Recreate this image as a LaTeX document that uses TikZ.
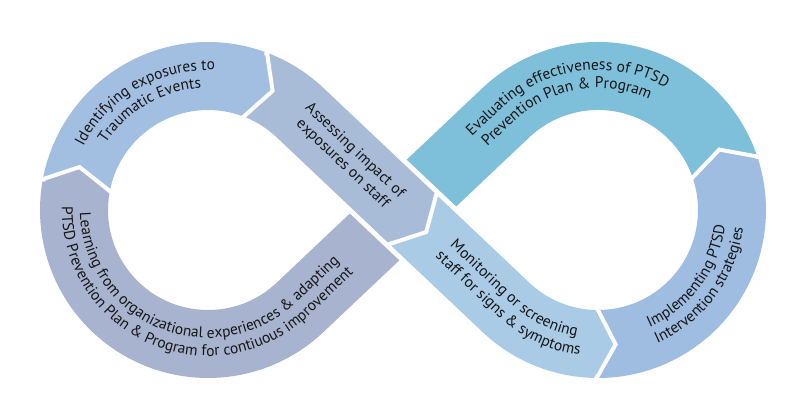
\documentclass[tikz,border=0pt]{standalone}
\usepackage{fontspec}
\usetikzlibrary{calc,decorations.text}
\newfontfamily\ptsans{PT Sans}
\newcommand{\labelfont}{\ptsans\fontsize{15.5}{18}\selectfont}

\definecolor{identc}{HTML}{A2BEE0}
\definecolor{assessc}{HTML}{A8BCD8}
\definecolor{learnc}{HTML}{A7B3CF}
\definecolor{evalc}{HTML}{7EBFD9}
\definecolor{monc}{HTML}{AACBE6}
\definecolor{implc}{HTML}{9EBDE1}
\definecolor{labeltext}{HTML}{161616}

\tikzset{
	band/.style={line width=68pt},
	chev/.style={draw=white, line width=4pt},
	seglabel/.style={decorate, decoration={text along path, text align=center, text color=labeltext}}
}

\begin{document}
\begin{tikzpicture}[x=1pt, y=1pt]
	\useasboundingbox (0,0) rectangle (800,-402);

	\coordinate (cl) at (208,-210);	% left loop
	\coordinate (cr) at (598,-210);	% right loop
	\coordinate (x) at (403,-210);	% crossing
	\coordinate (tlu) at ([shift={(46.6:134)}]cl);
	\coordinate (tld) at ([shift={(-46.6:134)}]cl);
	\coordinate (tru) at ([shift={(133.4:134)}]cr);
	\coordinate (trd) at ([shift={(226.6:134)}]cr);

	\coordinate (jli) at ([shift={(170:134)}]cl);
	\coordinate (jia) at ([shift={(70:134)}]cl);
	\coordinate (jam) at ([shift={(-43.4:12)}]x);
	\coordinate (jmi) at ([shift={(-91:134)}]cr);
	\coordinate (jie) at ([shift={(18:134)}]cr);

	% bands, lower one first
	\draw [band, evalc] (jie) arc[start angle=18, end angle=133.4, radius=134] -- (x);
	\draw [band, learnc] (x) -- (tld) arc[start angle=-46.6, end angle=-190, radius=134];
	\draw [band, identc] (jli) arc[start angle=170, end angle=70, radius=134];
	\draw [band, implc] (jmi) arc[start angle=-91, end angle=18, radius=134];

	\draw [band, white, line width=78pt] ([shift={(136.6:60)}]x) -- ([shift={(-43.4:60)}]x);
	\draw [band, assessc] (jia) arc[start angle=70, end angle=46.6, radius=134] -- (jam);
	\draw [band, monc] (jam) -- (trd) arc[start angle=226.6, end angle=269, radius=134];

	% arrow heads between segments
	\begin{scope}[shift={(jli)}, rotate=80]
		\fill [learnc] (-2,34) -- (20,0) -- (-2,-34) -- cycle;
		\draw [chev] (0,37) -- (20,0) -- (0,-37);
	\end{scope}
	\begin{scope}[shift={(jia)}, rotate=-20]
		\fill [identc] (-2,34) -- (20,0) -- (-2,-34) -- cycle;
		\draw [chev] (0,37) -- (20,0) -- (0,-37);
	\end{scope}
	\begin{scope}[shift={(jam)}, rotate=-43.4]
		\fill [assessc] (-2,34) -- (20,0) -- (-2,-34) -- cycle;
		\draw [chev] (0,37) -- (20,0) -- (0,-37);
	\end{scope}
	\begin{scope}[shift={(jmi)}, rotate=-1]
		\fill [monc] (-2,34) -- (20,0) -- (-2,-34) -- cycle;
		\draw [chev] (0,37) -- (20,0) -- (0,-37);
	\end{scope}
	\begin{scope}[shift={(jie)}, rotate=108]
		\fill [implc] (-2,34) -- (20,0) -- (-2,-34) -- cycle;
		\draw [chev] (0,37) -- (20,0) -- (0,-37);
	\end{scope}

	% labels
	\path [seglabel, decoration={text={|\labelfont|Identifying exposures to}}] (cl) ++(167:140) arc[start angle=167, end angle=73, radius=140];
	\path [seglabel, decoration={text={|\labelfont|Traumatic Events}}] (cl) ++(167:122) arc[start angle=167, end angle=73, radius=122];

	\path [seglabel, decoration={text={|\labelfont|Assessing impact of}}] ([shift={(46.6:6)}]tlu) ++(136.6:20) -- ++(-43.4:172);
	\path [seglabel, decoration={text={|\labelfont|exposures on staff}}] ([shift={(226.6:12)}]tlu) ++(136.6:20) -- ++(-43.4:172);

	\path [seglabel, decoration={text={|\labelfont|Monitoring or screening}}] ([shift={(46.6:6)}]x) ++(-43.4:35) -- ([shift={(46.6:6)}]trd) arc[start angle=226.6, end angle=271, radius=128];
	\path [seglabel, decoration={text={|\labelfont|staff for signs {\&} symptoms}}] ([shift={(226.6:12)}]x) ++(-43.4:35) -- ([shift={(226.6:12)}]trd) arc[start angle=226.6, end angle=271, radius=146];

	\path [seglabel, decoration={text={|\labelfont|Implementing PTSD}}] (cr) ++(-91:128) arc[start angle=-91, end angle=18, radius=128];
	\path [seglabel, decoration={text={|\labelfont|Intervention strategies}}] (cr) ++(-91:146) arc[start angle=-91, end angle=18, radius=146];

	\path [seglabel, decoration={text={|\labelfont|Evaluating effectiveness of PTSD}}] ([shift={(133.4:6)}]tru) ++(223.4:80) -- ([shift={(133.4:6)}]tru) arc[start angle=133.4, end angle=45, radius=140];
	\path [seglabel, decoration={text={|\labelfont|Prevention Plan {\&} Program}}] ([shift={(313.4:12)}]tru) ++(223.4:80) -- ([shift={(313.4:12)}]tru) arc[start angle=133.4, end angle=45, radius=122];

	\path [seglabel, decoration={text={|\labelfont|Learning from organizational experiences {\&} adapting}}] (cl) ++(-194:128) arc[start angle=-194, end angle=-46.6, radius=128] -- ++(43.4:95);
	\path [seglabel, decoration={text={|\labelfont|PTSD Prevention Plan {\&} Program for contiuous improvement}}] (cl) ++(-194:146) arc[start angle=-194, end angle=-46.6, radius=146] -- ++(43.4:95);
\end{tikzpicture}
\end{document}
